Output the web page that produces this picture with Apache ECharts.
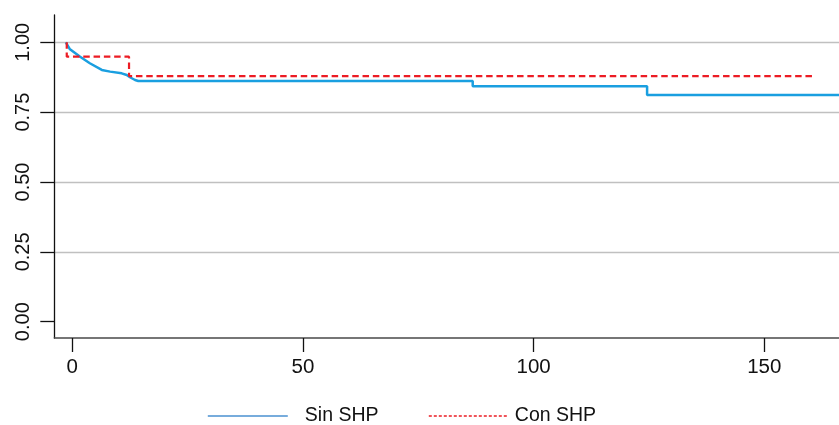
<!DOCTYPE html>
<html><head><meta charset="utf-8">
<script src="https://cdn.jsdelivr.net/npm/echarts@6/dist/echarts.min.js"></script>
<style>html,body{margin:0;padding:0;background:#fff}#c{width:839px;height:425px}</style>
</head><body><div id="c"></div>
<script>
// Series names
const seriesNames = ['Sin SHP', 'Con SHP'];
// Kaplan-Meier style curves: [time, survival]
const sinShp = [
  [-1.4, 1.0], [-0.5, 0.975], [1.7, 0.948], [3.8, 0.925], [6.4, 0.901],
  [8.2, 0.895], [10.7, 0.889], [11.8, 0.883], [12.5, 0.875], [13.6, 0.865],
  [14.3, 0.8615], [86.8, 0.8615], [86.8, 0.8425], [124.6, 0.8425],
  [124.6, 0.811], [170, 0.811]
];
const conShp = [
  [-1.2, 1.0], [-1.2, 0.9485], [12.3, 0.9485], [12.3, 0.879], [161, 0.879]
];
// Axis ticks
const xTicks = [0, 50, 100, 150];
const yTicks = [0, 0.25, 0.5, 0.75, 1];
const yGridLines = [0.25, 0.5, 0.75, 1];

const font = "'Liberation Sans',Arial,sans-serif";

const chart = echarts.init(document.getElementById('c'), null, {renderer: 'canvas'});
chart.setOption({
  animation: false,
  backgroundColor: '#ffffff',
  grid: {left: 54.3, right: 0, top: 15, bottom: 87},
  xAxis: {
    type: 'value', min: -3.9, max: 166.2,
    axisLine: {show: true, onZero: false, lineStyle: {color: '#4a4a4a', width: 1.5}},
    axisTick: {show: true, length: 14, customValues: xTicks, lineStyle: {color: '#111', width: 1.3}},
    axisLabel: {customValues: xTicks, margin: 19, fontFamily: font, fontSize: 20.5, color: '#111'},
    splitLine: {show: false}
  },
  yAxis: [{
    type: 'value', min: -0.0583, max: 1.0977,
    axisLine: {show: true, onZero: false, lineStyle: {color: '#111', width: 1.3}},
    axisTick: {show: true, length: 14, customValues: yTicks, lineStyle: {color: '#111', width: 1.3}},
    axisLabel: {customValues: yTicks, rotate: 90, margin: 21, fontFamily: font, fontSize: 20, color: '#111',
      formatter: v => v.toFixed(2)},
    splitLine: {show: false}
  }, {
    type: 'value', min: -0.0583, max: 1.0977, position: 'left',
    axisLine: {show: false, onZero: false},
    axisTick: {show: false, customValues: yGridLines},
    axisLabel: {show: false, customValues: yGridLines},
    splitLine: {show: true, lineStyle: {color: '#c0c0c0', width: 1.3}}
  }],
  legend: [{
    data: [seriesNames[0]], left: 202, top: 401, itemWidth: 80, itemHeight: 18,
    itemStyle: {opacity: 0},
    lineStyle: {width: 1.6, color: '#4a90d0'},
    textStyle: {fontFamily: font, fontSize: 19.5, color: '#111', padding: [0, 0, 0, 12]}
  }, {
    data: [seriesNames[1]], left: 423, top: 401, itemWidth: 80, itemHeight: 18,
    itemStyle: {opacity: 0},
    lineStyle: {width: 1.6, type: [3, 2]},
    textStyle: {fontFamily: font, fontSize: 19.5, color: '#111', padding: [0, 0, 0, 1]}
  }],
  series: [{
    name: seriesNames[0], type: 'line', data: sinShp, symbol: 'none', yAxisIndex: 0,
    lineStyle: {color: '#1a9fe0', width: 2.5}, itemStyle: {color: '#1a9fe0'}, z: 3
  }, {
    name: seriesNames[1], type: 'line', data: conShp, symbol: 'none', yAxisIndex: 0,
    lineStyle: {color: '#ec1c24', width: 2.2, type: [6.5, 3.8]}, itemStyle: {color: '#ec1c24'}, z: 4
  }]
});
</script>
</body></html>
